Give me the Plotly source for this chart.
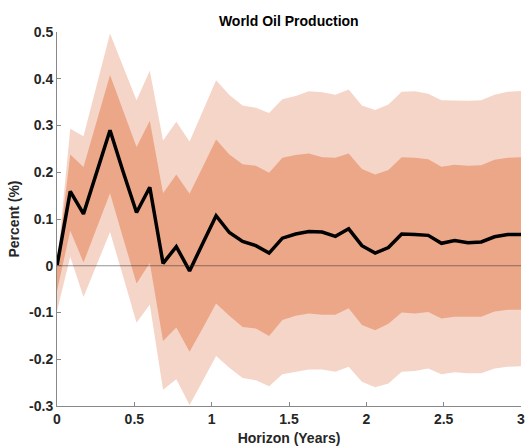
import numpy as np
import plotly.graph_objects as go

# Impulse response of world oil production, 36 horizon steps over 3 years
horizon = np.linspace(0, 3, 36)

median = [0.000, 0.159, 0.111, 0.200, 0.290, 0.200, 0.114, 0.168, 0.005, 0.041,
          -0.011, 0.048, 0.107, 0.071, 0.052, 0.043, 0.027, 0.059, 0.068, 0.073,
          0.072, 0.063, 0.079, 0.043, 0.027, 0.039, 0.068, 0.067, 0.065, 0.048,
          0.054, 0.049, 0.051, 0.062, 0.067, 0.067]

inner_upper = [0.000, 0.238, 0.211, 0.309, 0.408, 0.331, 0.254, 0.310, 0.155, 0.195,
               0.154, 0.212, 0.270, 0.238, 0.217, 0.214, 0.199, 0.231, 0.237, 0.240,
               0.232, 0.231, 0.240, 0.207, 0.195, 0.205, 0.232, 0.231, 0.228, 0.212,
               0.216, 0.214, 0.215, 0.227, 0.231, 0.232]

inner_lower = [-0.054, 0.075, 0.007, 0.081, 0.155, 0.058, -0.038, 0.006, -0.161, -0.132,
               -0.184, -0.133, -0.081, -0.107, -0.131, -0.134, -0.150, -0.116, -0.107, -0.102,
               -0.105, -0.105, -0.091, -0.127, -0.138, -0.124, -0.100, -0.102, -0.099, -0.113,
               -0.109, -0.109, -0.109, -0.098, -0.094, -0.094]

outer_upper = [0.000, 0.293, 0.277, 0.388, 0.497, 0.425, 0.354, 0.417, 0.268, 0.308,
               0.266, 0.331, 0.397, 0.365, 0.343, 0.338, 0.327, 0.356, 0.363, 0.373,
               0.371, 0.366, 0.377, 0.343, 0.333, 0.345, 0.372, 0.373, 0.368, 0.354,
               0.353, 0.353, 0.354, 0.366, 0.372, 0.374]

outer_lower = [-0.097, 0.019, -0.067, 0.004, 0.072, -0.024, -0.122, -0.083, -0.265, -0.243,
               -0.298, -0.246, -0.193, -0.218, -0.240, -0.245, -0.258, -0.232, -0.227, -0.222,
               -0.222, -0.227, -0.216, -0.248, -0.260, -0.252, -0.227, -0.225, -0.220, -0.232,
               -0.228, -0.230, -0.230, -0.220, -0.216, -0.215]

y_ticks = [-0.3, -0.2, -0.1, 0, 0.1, 0.2, 0.3, 0.4, 0.5]
y_tick_text = ["-0.3", "-0.2", "-0.1", "0", "0.1", "0.2", "0.3", "0.4", "0.5"]
x_ticks = [0, 0.5, 1, 1.5, 2, 2.5, 3]
x_tick_text = ["0", "0.5", "1", "1.5", "2", "2.5", "3"]

LIGHT = "#F5D5C8"
DARK = "#EBA788"
FONT = "Liberation Sans, Arial, sans-serif"

fig = go.Figure()

# outer credible band
fig.add_trace(go.Scatter(x=horizon, y=outer_lower, mode="lines",
                         line=dict(width=0, color=LIGHT), hoverinfo="skip",
                         showlegend=False))
fig.add_trace(go.Scatter(x=horizon, y=outer_upper, mode="lines",
                         line=dict(width=0, color=LIGHT), fill="tonexty",
                         fillcolor=LIGHT, hoverinfo="skip", showlegend=False))
# inner credible band
fig.add_trace(go.Scatter(x=horizon, y=inner_lower, mode="lines",
                         line=dict(width=0, color=DARK), hoverinfo="skip",
                         showlegend=False))
fig.add_trace(go.Scatter(x=horizon, y=inner_upper, mode="lines",
                         line=dict(width=0, color=DARK), fill="tonexty",
                         fillcolor=DARK, hoverinfo="skip", showlegend=False))
# median response
fig.add_trace(go.Scatter(x=horizon, y=median, mode="lines",
                         line=dict(width=3.5, color="black"), showlegend=False))

# zero reference line
fig.add_shape(type="line", xref="x", yref="y", x0=0, x1=3, y0=0, y1=0,
              line=dict(color="rgba(40,40,40,0.5)", width=1), layer="above")

axis_common = dict(
    showline=True, linecolor="#888888", linewidth=1,
    ticks="inside", ticklen=4, tickcolor="#888888", tickwidth=1,
    showgrid=False, zeroline=False, automargin=False,
    tickfont=dict(family=FONT, size=14, color="#262626", weight="bold"),
    mirror=False,
)

fig.update_xaxes(range=[0, 3], tickvals=x_ticks, ticktext=x_tick_text,
                 title=dict(text="<b>Horizon (Years)</b>",
                            font=dict(family=FONT, size=14, color="#262626"),
                            standoff=7),
                 **axis_common)
fig.update_yaxes(range=[-0.3, 0.5], tickvals=y_ticks, ticktext=y_tick_text,
                 title=dict(text="<b>Percent (%)</b>",
                            font=dict(family=FONT, size=14, color="#262626"),
                            standoff=6),
                 **axis_common)

fig.update_layout(
    width=526, height=446,
    margin=dict(l=57, r=5, t=32, b=40, autoexpand=False),
    paper_bgcolor="white", plot_bgcolor="white",
    title=dict(text="<b>World Oil Production</b>", x=0.549, xanchor="center",
               y=0.953, yanchor="middle",
               font=dict(family=FONT, size=14, color="black")),
)

fig.write_html("out.html")
